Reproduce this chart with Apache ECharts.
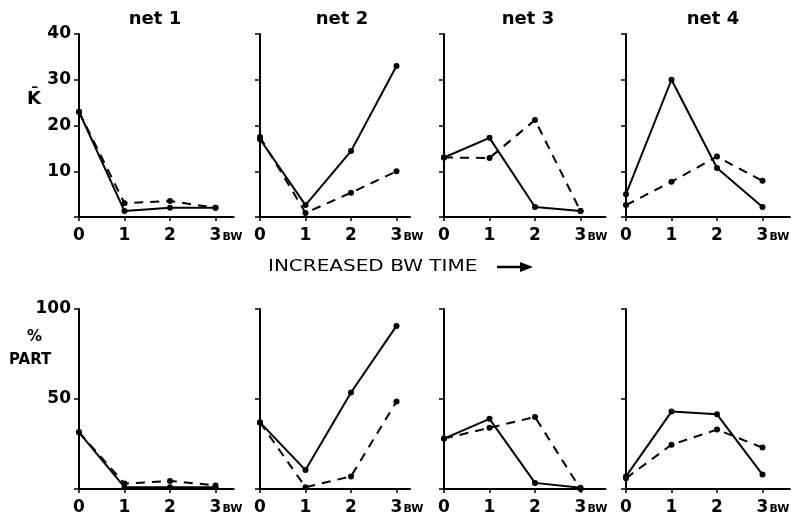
<!DOCTYPE html>
<html><head><meta charset="utf-8">
<script src="https://cdn.jsdelivr.net/npm/echarts@6/dist/echarts.min.js"></script>
<style>html,body{margin:0;padding:0;background:#fff}#c{width:795px;height:517px}</style>
</head><body><div id="c"></div>
<script>
// ---- data ----
const xs = [0, 1, 2, 3];
const panelTitles = ['net 1', 'net 2', 'net 3', 'net 4'];
const kTicks = [10, 20, 30, 40];
const partTicks = [50, 100];

const net1K_solid = [23, 1.3, 2, 2];
const net1K_dash  = [23, 3, 3.5, 2];
const net2K_solid = [17, 2.6, 14.4, 33];
const net2K_dash  = [17.5, 0.9, 5.3, 10];
const net3K_solid = [13, 17.3, 2.2, 1.3];
const net3K_dash  = [13, 12.9, 21.2, 1.3];
const net4K_solid = [5, 30, 10.7, 2.2];
const net4K_dash  = [2.6, 7.7, 13.2, 7.9];

const net1P_solid = [31.5, 1, 1, 1];
const net1P_dash  = [31.5, 3, 4.5, 2];
const net2P_solid = [37, 10.5, 53.6, 90.6];
const net2P_dash  = [37, 1, 7, 48.6];
const net3P_solid = [28, 39, 3.4, 0.7];
const net3P_dash  = [28, 34, 40, 0];
const net4P_solid = [7, 43, 41.5, 8];
const net4P_dash  = [6, 24.6, 33, 23];

const topSolid = [net1K_solid, net2K_solid, net3K_solid, net4K_solid];
const topDash  = [net1K_dash, net2K_dash, net3K_dash, net4K_dash];
const botSolid = [net1P_solid, net2P_solid, net3P_solid, net4P_solid];
const botDash  = [net1P_dash, net2P_dash, net3P_dash, net4P_dash];

// ---- layout ----
const lefts = [79, 260, 444, 626];
const unit = 45.5;
const xMaxes = [3.4, 3.3, 3.55, 3.6];
const rows = [{top: 34, height: 183, max: 40, interval: 10, ticks: kTicks},
              {top: 309, height: 180, max: 100, interval: 50, ticks: partTicks}];
const FONT = 'DejaVu Sans';

const grids = [], xAxes = [], yAxes = [], series = [];
rows.forEach((row, r) => {
  lefts.forEach((left, c) => {
    const gi = grids.length;
    grids.push({left: left, top: row.top, width: unit * xMaxes[c], height: row.height, containLabel: false});
    xAxes.push({
      type: 'value', gridIndex: gi, min: 0, max: xMaxes[c], interval: 1,
      axisLine: {show: true, lineStyle: {color: '#000', width: 2}},
      axisTick: {show: true, length: 4, lineStyle: {color: '#000', width: 1.5}},
      splitLine: {show: false},
      axisLabel: {
        margin: 10, showMaxLabel: false, color: '#000',
        formatter: v => {
          if (v === 3) return '{h|BW}{b|3}{s|BW}';
          if (xs.indexOf(v) >= 0) return '{b|' + v + '}';
          return '';
        },
        rich: {
          b: {fontFamily: FONT, fontSize: 17, fontWeight: 'bold', color: '#000'},
          s: {fontFamily: FONT, fontSize: 11, fontWeight: 'bold', color: '#000', padding: [4, 0, 0, 1]},
          h: {fontFamily: FONT, fontSize: 11, fontWeight: 'bold', color: 'rgba(0,0,0,0)', padding: [4, 1, 0, 0]}
        }
      }
    });
    yAxes.push({
      type: 'value', gridIndex: gi, min: 0, max: row.max, interval: row.interval,
      axisLine: {show: true, lineStyle: {color: '#000', width: 2}},
      axisTick: {show: true, length: 5, lineStyle: {color: '#000', width: 1.5}},
      splitLine: {show: false},
      axisLabel: {
        show: c === 0, margin: 8, color: '#000', fontFamily: FONT, fontSize: 17, fontWeight: 'bold',
        formatter: v => (row.ticks.indexOf(v) >= 0 ? String(v) : '')
      }
    });
    const sData = (r === 0 ? topSolid : botSolid)[c];
    const dData = (r === 0 ? topDash : botDash)[c];
    series.push({
      type: 'line', xAxisIndex: gi, yAxisIndex: gi,
      data: xs.map((x, i) => [x, sData[i]]),
      symbol: 'circle', symbolSize: 6, showSymbol: true,
      lineStyle: {color: '#000', width: 2, type: 'solid'},
      itemStyle: {color: '#000'}, animation: false, silent: true
    });
    series.push({
      type: 'line', xAxisIndex: gi, yAxisIndex: gi,
      data: xs.map((x, i) => [x, dData[i]]),
      symbol: 'circle', symbolSize: 6, showSymbol: true,
      lineStyle: {color: '#000', width: 2, type: [9, 7]},
      itemStyle: {color: '#000'}, animation: false, silent: true
    });
  });
});

const titleCenters = [150, 337, 523, 708];
const titles = panelTitles.map((t, i) => ({
  text: t, left: titleCenters[i], top: 5, textAlign: 'center',
  textStyle: {fontFamily: FONT, fontSize: 18, fontWeight: 'bold', color: '#000'}
}));

const chart = echarts.init(document.getElementById('c'), null, {renderer: 'canvas'});
chart.setOption({
  backgroundColor: '#fff',
  animation: false,
  title: titles,
  grid: grids, xAxis: xAxes, yAxis: yAxes, series: series,
  graphic: [
    {type: 'text', left: 27, top: 90, style: {text: 'K\u0304', font: 'bold 18px "DejaVu Sans"', fill: '#000'}},
    {type: 'text', left: 27, top: 330, style: {text: '%', font: 'bold 15px "DejaVu Sans"', fill: '#000'}},
    {type: 'text', left: 9, top: 353, style: {text: 'PART', font: 'bold 15px "DejaVu Sans"', fill: '#000'}},
    {type: 'text', x: 268, y: 259, scaleX: 1.25, style: {text: 'INCREASED BW TIME', font: '16px "DejaVu Sans"', fill: '#000'}},
    {type: 'line', shape: {x1: 497, y1: 267, x2: 524, y2: 267}, style: {stroke: '#000', lineWidth: 2.5}},
    {type: 'polygon', shape: {points: [[520, 262], [533, 267], [520, 272]]}, style: {fill: '#000'}}
  ]
});
</script></body></html>
